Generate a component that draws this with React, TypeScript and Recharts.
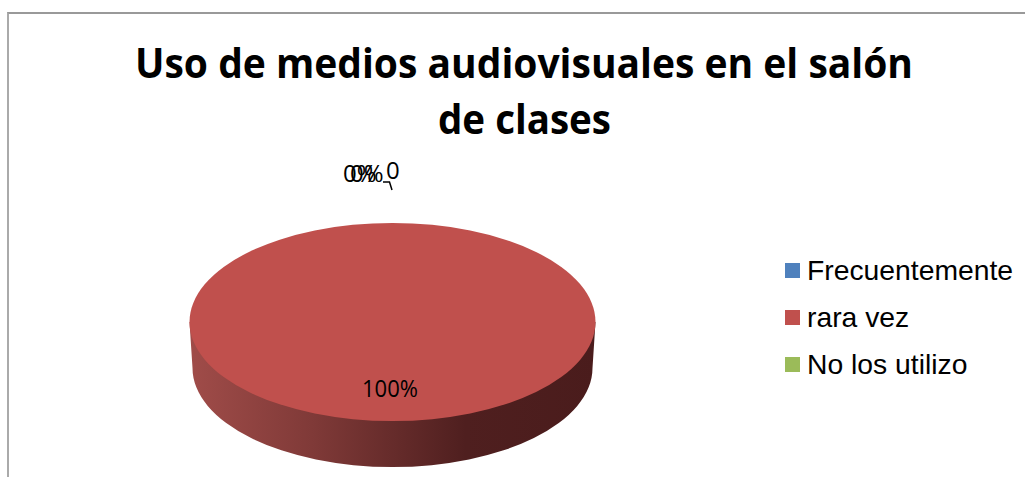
import React from 'react';
import { PieChart, Pie, Legend } from 'recharts';

const categories = ["Frecuentemente", "rara vez", "No los utilizo"];
const values = [0, 30, 0];
const sliceColors = ["#4F81BD", "#C0504D", "#9BBB59"];
const titleLines = ["Uso de medios audiovisuales en el salón", "de clases"];

const chartData = categories.map((name, i) => ({ name, value: values[i], fill: sliceColors[i] }));

const W = 1025;
const H = 477;
const CX = 392.5;
const CY = 322;
const RADIUS = 203;
const SQUASH = 0.488; // tilt of the 3D pie
const DEPTH = 46;

// Draws the sector as a tilted disc with a side wall
const Disc3D = (props: any) => {
  const { cx, cy, outerRadius, fill, value } = props;
  if (!value) return null;
  const rx = outerRadius;
  const ry = outerRadius * SQUASH;
  const wall = `M ${cx - rx} ${cy} L ${cx - rx + 3} ${cy + DEPTH} A ${rx - 3} ${ry} 0 0 0 ${cx + rx - 3} ${cy + DEPTH} L ${cx + rx} ${cy} Z`;
  return (
    <g>
      <path d={wall} fill="url(#wallShade)" />
      <ellipse cx={cx} cy={cy} rx={rx} ry={ry} fill={fill} />
    </g>
  );
};

const renderLabel = (props: any) => {
  const { cx, cy, outerRadius, percent, index, value } = props;
  const pct = `${Math.round(percent * 100)}%`;
  const style = { fontFamily: '"Open Sans", sans-serif', fontSize: 24, fill: "#000" };
  if (index === 1) {
    return (
      <text x={cx - 2.5} y={cy + outerRadius * SQUASH - 24} textAnchor="middle" textLength={56} lengthAdjust="spacingAndGlyphs" style={style}>{pct}</text>
    );
  }
  const top = cy - outerRadius * SQUASH;
  if (index === 0) {
    return <text x={cx - 49.5} y={top - 41} style={style}>{pct}</text>;
  }
  return (
    <g>
      <text x={cx - 42.5} y={top - 41} style={style}>{pct}</text>
      <text x={cx - 6.5} y={top - 44} style={style}>{value}</text>
      <path d={`M ${cx - 9.5} ${top - 41} L ${cx - 3} ${top - 41} L ${cx - 0.5} ${top - 33}`} fill="none" stroke="#000" strokeWidth={1.5} />
    </g>
  );
};

const LegendBox = ({ payload }: any) => (
  <div style={{ fontFamily: '"Liberation Sans", Arial, sans-serif', fontSize: 28.3, color: "#000" }}>
    {(payload ?? []).map((entry: any) => (
      <div key={entry.value} style={{ display: "flex", alignItems: "center", height: 47 }}>
        <span style={{ width: 15, height: 15, background: entry.color, marginRight: 7 }} />
        <span>{entry.value}</span>
      </div>
    ))}
  </div>
);

export default function App() {
  return (
    <div style={{ position: "absolute", left: 0, top: 0, width: W, height: H, background: "#fff", overflow: "hidden" }}>
      <div style={{ position: "absolute", left: 7, top: 12, width: 1030, height: 470, borderTop: "2px solid #999", borderLeft: "2px solid #aaa" }} />
      <PieChart width={W} height={H} margin={{ top: 0, right: 0, bottom: 0, left: 0 }} style={{ position: "absolute", left: 0, top: 0 }}>
        <defs>
          <linearGradient id="wallShade" x1="0" y1="0" x2="1" y2="0">
            <stop offset="0" stopColor="#a04c49" />
            <stop offset="0.3" stopColor="#803a38" />
            <stop offset="0.68" stopColor="#4f1f1f" />
            <stop offset="1" stopColor="#4a1c1c" />
          </linearGradient>
        </defs>
        <text x={524} y={77.5} textAnchor="middle" textLength={778} lengthAdjust="spacingAndGlyphs" style={{ fontFamily: '"Open Sans", sans-serif', fontWeight: 700, fontSize: 41, fill: "#000" }}>{titleLines[0]}</text>
        <text x={524.5} y={134} textAnchor="middle" textLength={173} lengthAdjust="spacingAndGlyphs" style={{ fontFamily: '"Open Sans", sans-serif', fontWeight: 700, fontSize: 41, fill: "#000" }}>{titleLines[1]}</text>
        <Pie
          data={chartData}
          dataKey="value"
          nameKey="name"
          cx={CX}
          cy={CY}
          innerRadius={0}
          outerRadius={RADIUS}
          startAngle={90}
          endAngle={-270}
          stroke="none"
          shape={Disc3D}
          label={renderLabel}
          labelLine={false}
          isAnimationActive={false}
        />
        <Legend content={<LegendBox />} layout="vertical" itemSorter={null} wrapperStyle={{ position: "absolute", left: 785, top: 247, width: 240, bottom: "auto", right: "auto" }} />
      </PieChart>
    </div>
  );
}
